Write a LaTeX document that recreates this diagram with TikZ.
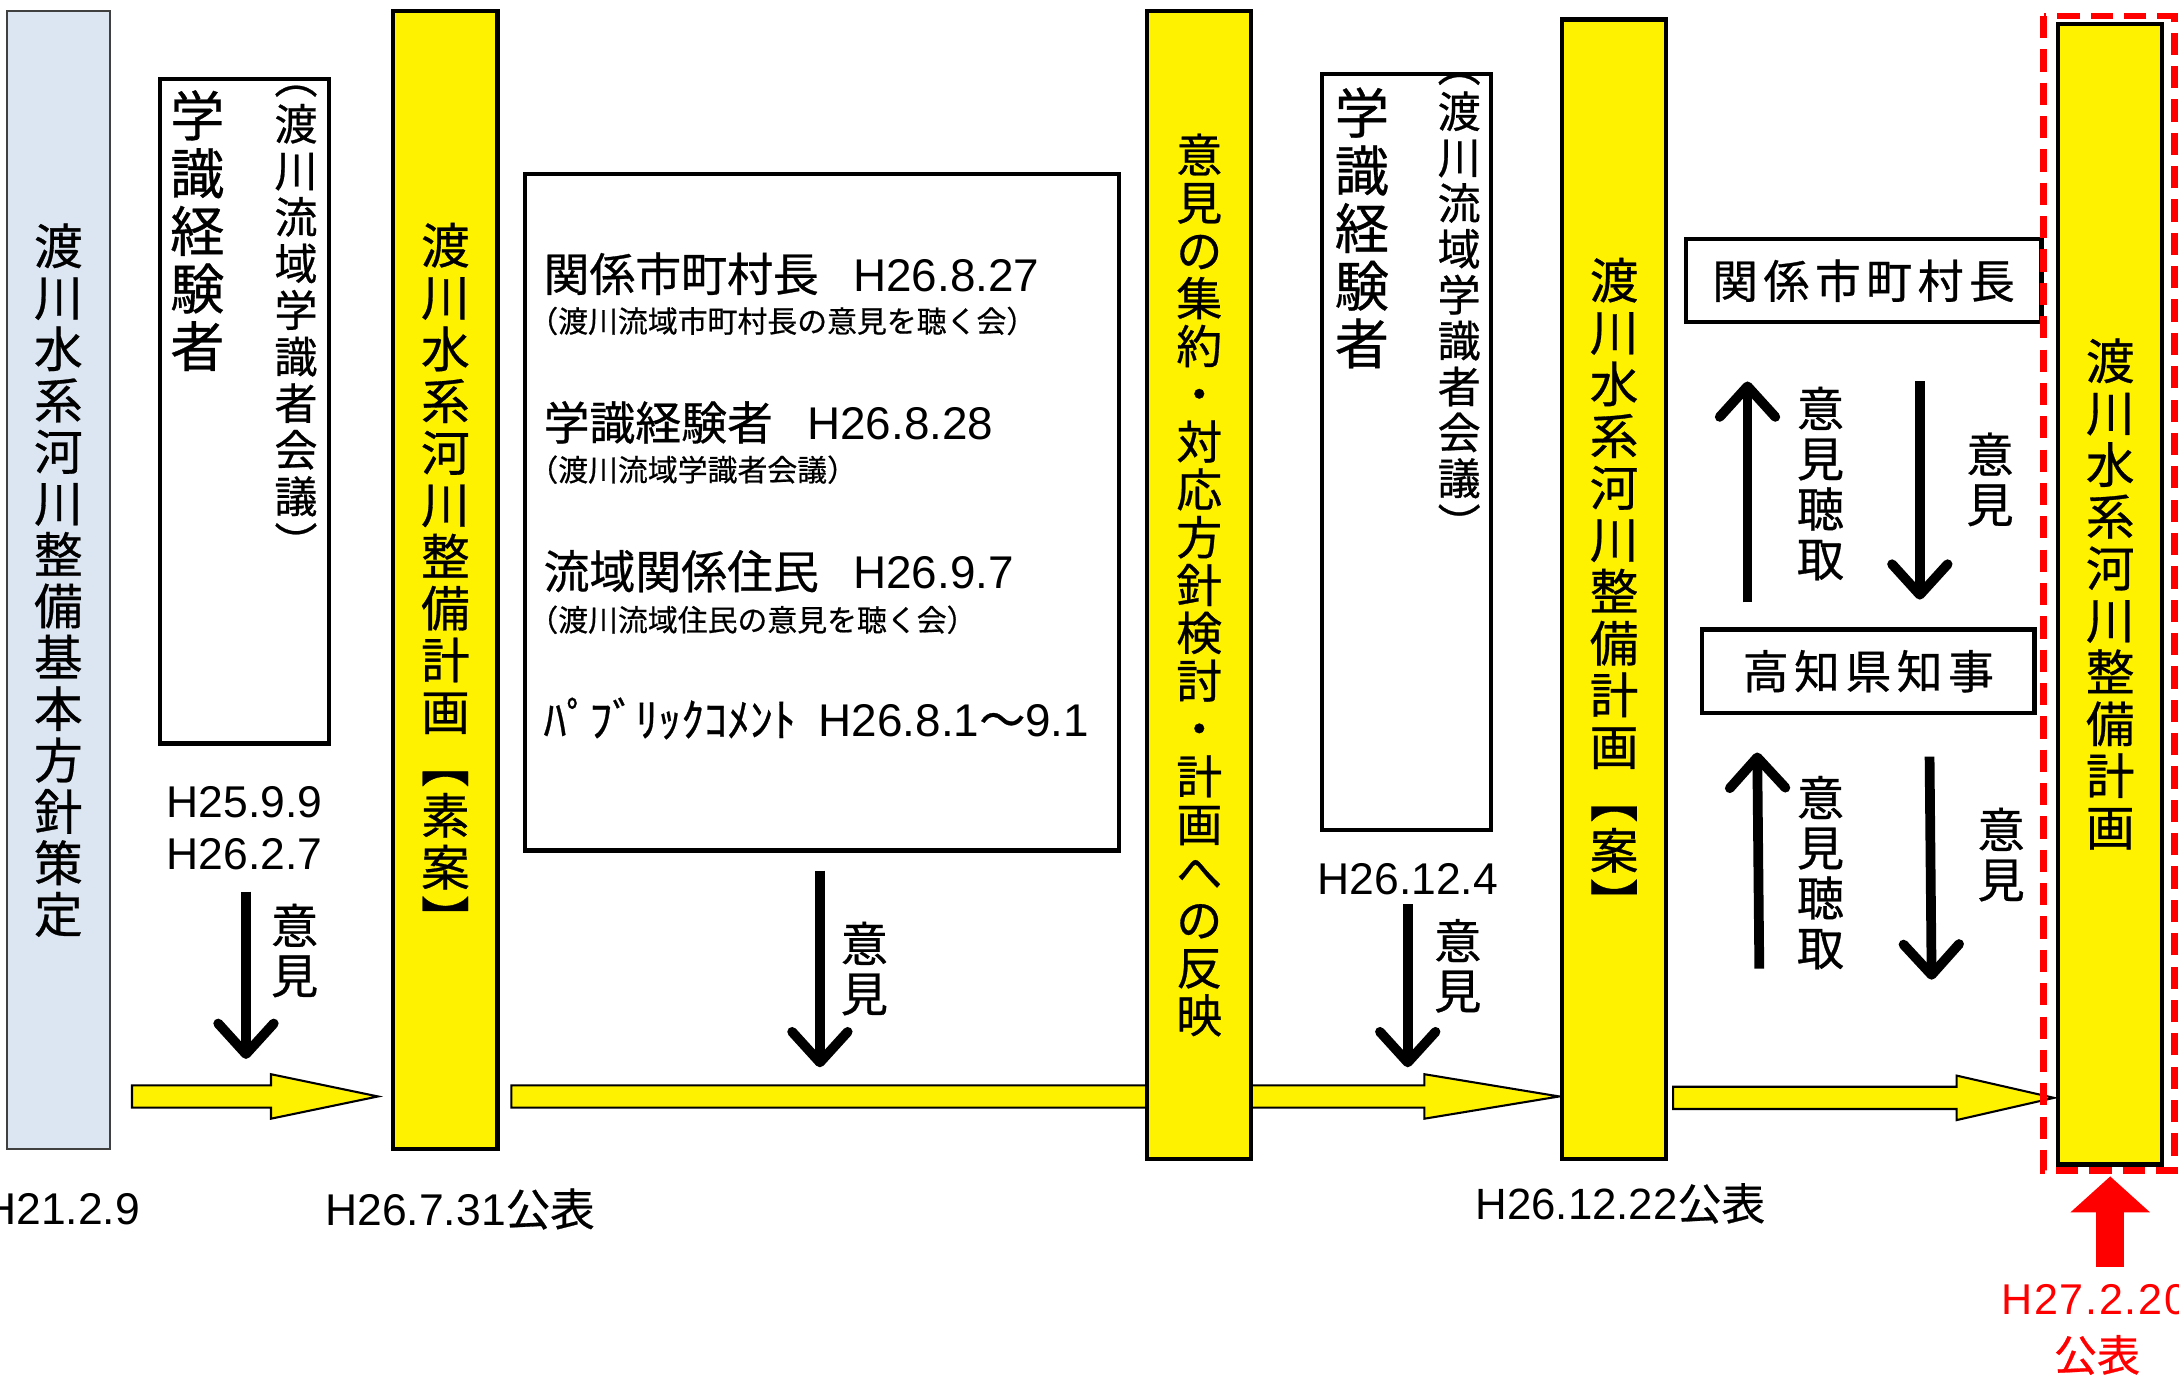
\documentclass[tikz,border=0pt]{standalone}
\usepackage{fontspec}
\setmainfont{Liberation Sans}
\newfontfamily\jp[FakeBold=0.6]{Noto Sans CJK JP}
\usetikzlibrary{calc, arrows.meta}
\definecolor{basicblue}{HTML}{DCE6F2}

% yellow block arrow: start, tip, head length
\newcommand{\flowarrow}[3]{%
  \draw[flow] ($(#1)+(0,-8)$) -- ($(#2)+(-#3,-8)$) -- ($(#2)+(-#3,-16)$) -- (#2)
    -- ($(#2)+(-#3,16)$) -- ($(#2)+(-#3,8)$) -- ($(#1)+(0,8)$) -- cycle;
}
\newcommand{\tightstack}{\lineskiplimit-50pt\relax}

\begin{document}
\begin{tikzpicture}[x=1pt, y=-1pt,
  panelbox/.style={draw, line width=3pt, inner sep=0pt},
  basicplan/.style={draw=black!75, line width=1.5pt, fill=basicblue, inner sep=0pt, minimum width=74pt, align=center, font=\jp\fontsize{35}{37}\selectfont\tightstack},
  plan/.style={panelbox, fill=yellow, minimum width=75pt, align=center, font=\jp\fontsize{35}{37.3}\selectfont\tightstack},
  vstack/.style={inner sep=0pt, align=center},
  voice/.style={vstack, font=\jp\fontsize{34}{36}\selectfont\tightstack},
  opinion/.style={line width=7pt, -{Straight Barb[length=22pt, width=40pt, round]}},
  flow/.style={draw, line width=1.5pt, fill=yellow},
  date/.style={inner sep=0pt, align=center, font=\fontsize{32}{38}\selectfont},
  entry/.style={inner sep=0pt, anchor=west, font=\fontsize{33}{33}\selectfont},
  entrynote/.style={inner sep=0pt, anchor=west, font=\jp\fontsize{21.5}{21.5}\selectfont},
  release/.style={draw=red, line width=5pt, dash pattern=on 16pt off 8pt},
]

\useasboundingbox (0,0) rectangle (1568,992);

% flow of the plan
\coordinate (f1s) at (95,789);
\coordinate (f1t) at (272,789);
\coordinate (f2s) at (368,789);
\coordinate (f2t) at (1122,789);
\coordinate (f3s) at (1204,790);
\coordinate (f3t) at (1478,790);
\flowarrow{f1s}{f1t}{77}
\flowarrow{f2s}{f2t}{97}
\flowarrow{f3s}{f3t}{70}

% basic policy
\node[basicplan, minimum height=819pt] (basic) at (42,417.5) {渡\\川\\水\\系\\河\\川\\整\\備\\基\\本\\方\\針\\策\\定};
\node[date, anchor=east] (d0) at (101,870) {H21.2.9};

% experts, first meeting
\node[panelbox, minimum width=122pt, minimum height=478pt] (experts1) at (176,296) {};
\node[vstack, font=\jp\fontsize{39}{41.5}\selectfont\tightstack] (experts1name) at (142,166) {学\\識\\経\\験\\者};
\node[vstack, font=\jp\fontsize{31}{33.5}\selectfont\tightstack] (experts1meet) at (213,232) {︵\\渡\\川\\流\\域\\学\\識\\者\\会\\議\\︶};
\node[date] (d1) at (176,596) {H25.9.9\\H26.2.7};
\coordinate (o1) at (177,762);
\draw[opinion] ($(d1.south -| o1)+(0,15)$) -- (o1);
\node[voice] (v1) at (212,684) {意\\見};

% draft plan
\node[plan, minimum height=819pt] (draft) at (320.5,417.5) {渡\\川\\水\\系\\河\\川\\整\\備\\計\\画\\︻\\素\\案\\︼};
\node[date] (d2) at (331,870) {H26.7.31{\jp 公表}};

% hearings
\node[panelbox, minimum width=427pt, minimum height=487pt] (hearings) at (591.5,368.5) {};
\node[entry] (h1) at (391,197) {{\jp 関係市町村長}\hspace{0.75em}H26.8.27};
\node[entrynote] (h1n) at (380,231) {（渡川流域市町村長の意見を聴く会）};
\node[entry] (h2) at (391,304) {{\jp 学識経験者}\hspace{0.75em}H26.8.28};
\node[entrynote] (h2n) at (380,338) {（渡川流域学識者会議）};
\node[entry] (h3) at (391,411) {{\jp 流域関係住民}\hspace{0.75em}H26.9.7};
\node[entrynote] (h3n) at (380,446) {（渡川流域住民の意見を聴く会）};
\node[entry] (h4) at (391,517) {{\jp ﾊﾟﾌﾞﾘｯｸｺﾒﾝﾄ}\hspace{0.5em}H26.8.1{\jp ～}9.1};
\coordinate (o2) at (590,768);
\draw[opinion] ($(hearings.south -| o2)+(0,13)$) -- (o2);
\node[voice] (v2) at (622,697) {意\\見};

% summary of opinions
\node[plan, minimum height=826pt, font=\jp\fontsize{33}{34.4}\selectfont\tightstack] (summary) at (863,421) {意\\見\\の\\集\\約\\・\\対\\応\\方\\針\\検\\討\\・\\計\\画\\へ\\の\\反\\映};

% experts, second meeting
\node[panelbox, minimum width=122pt, minimum height=544pt] (experts2) at (1012,325) {};
\node[vstack, font=\jp\fontsize{39}{41.5}\selectfont\tightstack] (experts2name) at (980,164) {学\\識\\経\\験\\者};
\node[vstack, font=\jp\fontsize{31}{33}\selectfont\tightstack] (experts2meet) at (1050,221) {︵\\渡\\川\\流\\域\\学\\識\\者\\会\\議\\︶};
\node[date] (d3) at (1013,633) {H26.12.4};
\coordinate (o3) at (1013,768);
\draw[opinion] ($(d3.south -| o3)+(0,6)$) -- (o3);
\node[voice] (v3) at (1049,695) {意\\見};

% plan (draft)
\node[plan, minimum height=820pt] (proposal) at (1161.5,424) {渡\\川\\水\\系\\河\\川\\整\\備\\計\\画\\︻\\案\\︼};
\node[date, font=\fontsize{31.5}{31.5}\selectfont] (d4) at (1166,866) {H26.12.22{\jp 公表}};

% consultation with the prefecture
\node[panelbox, minimum width=256pt, minimum height=60pt, font=\jp\fontsize{33}{33}\selectfont\addfontfeature{LetterSpace=12}] (mayors) at (1341,202) {関係市町村長};
\node[panelbox, minimum width=239pt, minimum height=60pt, font=\jp\fontsize{33}{33}\selectfont\addfontfeature{LetterSpace=12}] (governor) at (1344.5,483) {高知県知事};
\draw[opinion] ($(governor.north west)+(34,-18)$) -- ($(mayors.south west)+(46,41)$);
\draw[opinion] ($(mayors.south west)+(170,41)$) -- ($(governor.north west)+(158,-20)$);
\node[voice] (v4) at (1310,348) {意\\見\\聴\\取};
\node[voice] (v5) at (1432,345) {意\\見};
\coordinate (u2) at (1266,697);
\coordinate (w2) at (1390,705);
\draw[opinion] (u2) -- ($(governor.south west)+(41,27)$);
\draw[opinion] ($(governor.south west)+(165,30)$) -- (w2);
\node[voice] (v6) at (1310,628) {意\\見\\聴\\取};
\node[voice] (v7) at (1440,615) {意\\見};

% final plan
\node[plan, minimum height=821pt] (final) at (1518.5,427.5) {渡\\川\\水\\系\\河\\川\\整\\備\\計\\画};
\draw[release] ($(final.north west)+(-9,-4)$) rectangle ($(final.south east)+(7,3)$);
\draw[red, line width=20pt, -{Triangle[length=26pt, width=56pt]}] ($(final.south)+(0,72)$) -- ($(final.south)+(0,7)$);
\node[inner sep=0pt, anchor=west, text=red, font=\fontsize{31}{31}\selectfont\addfontfeature{LetterSpace=4}] (d5) at (1440,935) {H27.2.20};
\node[inner sep=0pt, text=red, font=\jp\fontsize{31}{31}\selectfont] (d5b) at (1509,975) {公表};

\end{tikzpicture}
\end{document}
